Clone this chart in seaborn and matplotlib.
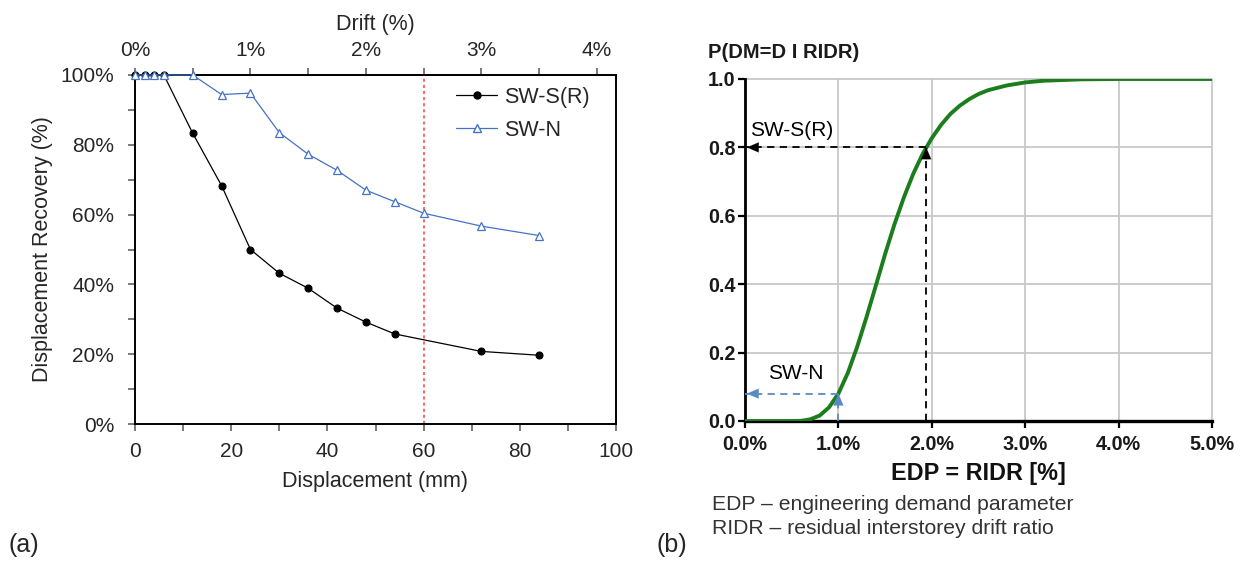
import matplotlib
matplotlib.use("Agg")
import matplotlib.pyplot as plt
from matplotlib.ticker import MultipleLocator, FixedLocator, FuncFormatter
from matplotlib.lines import Line2D
import seaborn as sns

# ---- panel (a): displacement recovery of the two walls ----
disp_swsr = [0, 2, 4, 6, 12, 18, 24, 30, 36, 42, 48, 54, 72, 84]
recov_swsr = [100, 100, 100, 100, 83.3, 68.3, 50.0, 43.2, 38.9, 33.2, 29.2, 25.8, 20.8, 19.7]
disp_swn = [0, 2, 4, 6, 12, 18, 24, 30, 36, 42, 48, 54, 60, 72, 84]
recov_swn = [100, 100, 100, 100, 100, 94.4, 94.8, 83.5, 77.3, 72.7, 67.0, 63.7, 60.4, 56.7, 54.0]
drift_limit_mm = 60
mm_per_drift_pct = 24
drift_ticks = [0, 1, 2, 3, 4]
drift_minor_ticks = [0.5, 1.5, 2.5, 3.5, 4.0]
series_names = ["SW-S(R)", "SW-N"]

# ---- panel (b): fragility curve P(DM=D | RIDR) ----
ridr_pct = [0.0, 0.5, 0.6, 0.7, 0.8, 0.9, 1.0, 1.1, 1.2, 1.3, 1.4, 1.5, 1.6, 1.7,
            1.8, 1.9, 2.0, 2.1, 2.2, 2.3, 2.4, 2.5, 2.6, 2.8, 3.0, 3.2, 3.4, 3.6,
            4.0, 4.5, 5.0]
prob_dm = [0.0, 0.0, 0.0005, 0.005, 0.016, 0.04, 0.08, 0.14, 0.216, 0.303, 0.395,
           0.488, 0.575, 0.653, 0.722, 0.78, 0.827, 0.866, 0.898, 0.922, 0.941,
           0.956, 0.967, 0.981, 0.99, 0.995, 0.997, 0.999, 1.0, 1.0, 1.0]
read_ridr = [1.94, 1.0]
read_prob = [0.8, 0.08]

sns.set_theme(style="white")
plt.rcParams["font.family"] = ["Liberation Sans", "DejaVu Sans"]
plt.rcParams["axes.unicode_minus"] = False

fig = plt.figure(figsize=(12.42, 5.61), dpi=100)
W, H = 1242, 561

def px_axes(l, t, r, b):
    return fig.add_axes([l / W, 1 - b / H, (r - l) / W, (b - t) / H])

# ======================= panel (a) =======================
ax = px_axes(135, 75, 616, 424)
blue = "#4472C4"
fs = 15

sns.lineplot(x=disp_swsr, y=recov_swsr, ax=ax, color="black", lw=0.9,
             marker="o", markersize=5, markeredgecolor="black",
             markerfacecolor="black", markeredgewidth=0.8, sort=False,
             clip_on=False, zorder=4)
sns.lineplot(x=disp_swn, y=recov_swn, ax=ax, color=blue, lw=0.9,
             marker="^", markersize=6, markeredgecolor=blue,
             markerfacecolor="white", markeredgewidth=0.9, sort=False,
             clip_on=False, zorder=5)
ax.axvline(drift_limit_mm, color="#ff3b3b", lw=1.1, ls=(0, (2, 2)), zorder=1)

ax.set_xlim(0, 100)
ax.set_ylim(0, 100)
ax.xaxis.set_major_locator(MultipleLocator(20))
ax.xaxis.set_minor_locator(MultipleLocator(10))
ax.yaxis.set_major_locator(MultipleLocator(20))
ax.yaxis.set_minor_locator(MultipleLocator(10))
ax.yaxis.set_major_formatter(FuncFormatter(lambda v, p: f"{v:.0f}%"))
ax.tick_params(which="both", direction="out", length=5, width=1.1,
               color="#555555", labelsize=fs, bottom=True, left=True)
ax.tick_params(axis="x", which="major", pad=8)
ax.tick_params(axis="y", which="major", pad=10)
for s in ax.spines.values():
    s.set_color("black")
    s.set_linewidth(1.4)
ax.set_xlabel("Displacement (mm)", fontsize=fs + 0.5, labelpad=7)
ax.set_ylabel("Displacement Recovery (%)", fontsize=fs + 0.5, labelpad=5)

top = ax.secondary_xaxis("top", functions=(lambda mm: mm / mm_per_drift_pct,
                                           lambda d: d * mm_per_drift_pct))
top.xaxis.set_major_locator(FixedLocator(drift_ticks))
top.xaxis.set_minor_locator(FixedLocator(drift_minor_ticks))
top.xaxis.set_major_formatter(FuncFormatter(lambda v, p: f"{v:.0f}%"))
top.tick_params(which="both", direction="out", length=5, width=1.1,
                color="#555555", labelsize=fs)
top.tick_params(which="major", pad=6)
top.set_xlabel("Drift (%)", fontsize=fs + 0.5, labelpad=8)

handles = [
    Line2D([], [], color="black", lw=0.9, marker="o", markersize=5,
           markerfacecolor="black", markeredgecolor="black"),
    Line2D([], [], color=blue, lw=0.9, marker="^", markersize=6,
           markerfacecolor="white", markeredgecolor=blue),
]
ax.legend(handles, series_names, loc="upper left", bbox_to_anchor=(0.668, 0.966),
          frameon=False, fontsize=fs + 0.5, borderpad=0, borderaxespad=0,
          handlelength=1.9, handletextpad=0.3, labelspacing=0.55)

# ======================= panel (b) =======================
bx = px_axes(745, 79, 1212, 421)
green = "#1c7d1c"
bfs = 14.2

sns.lineplot(x=ridr_pct, y=prob_dm, ax=bx, color=green, lw=2.8, sort=False,
             zorder=3)
bx.set_xlim(0, 5)
bx.set_ylim(0, 1)
bx.xaxis.set_major_locator(MultipleLocator(1))
bx.yaxis.set_major_locator(MultipleLocator(0.2))
bx.xaxis.set_major_formatter(FuncFormatter(lambda v, p: f"{v:.1f}%"))
bx.yaxis.set_major_formatter(FuncFormatter(lambda v, p: f"{v:.1f}"))
bx.grid(True, color="#c8c8c8", lw=1.3)
for gl in bx.get_xgridlines() + bx.get_ygridlines():
    gl.set_clip_on(False)
bx.spines["top"].set_visible(False)
bx.spines["right"].set_visible(False)
bx.spines["left"].set_color("black")
bx.spines["left"].set_linewidth(2.0)
bx.spines["bottom"].set_color("black")
bx.spines["bottom"].set_linewidth(2.4)
bx.tick_params(which="both", direction="out", length=5, width=1.6,
               color="black", labelsize=bfs, bottom=True, left=True)
bx.tick_params(axis="x", pad=5)
bx.tick_params(axis="y", pad=2)
for lab in bx.get_xticklabels() + bx.get_yticklabels():
    lab.set_fontweight("bold")
    lab.set_color("#1a1a1a")
bx.set_xlabel("EDP = RIDR [%]", fontsize=16.8, fontweight="bold", color="#111111",
              labelpad=6)

dash_colors = ["black", "#5a8ac6"]
for xr, pr, c in zip(read_ridr, read_prob, dash_colors):
    bx.plot([xr, xr], [0, pr], color=c, lw=1.3, ls=(0, (4, 3)), zorder=4)
    bx.plot([xr, 0], [pr, pr], color=c, lw=1.3, ls=(0, (4, 3)), zorder=4)
    bx.annotate("", xy=(xr, pr), xytext=(xr, pr - 0.04),
                arrowprops=dict(arrowstyle="-|>,head_length=0.7,head_width=0.3",
                                color=c, lw=0.1, shrinkA=0, shrinkB=0), zorder=5)
    bx.annotate("", xy=(0.02, pr), xytext=(0.2, pr),
                arrowprops=dict(arrowstyle="-|>,head_length=0.7,head_width=0.3",
                                color=c, lw=0.1, shrinkA=0, shrinkB=0), zorder=5)

bx.text(0.05, 0.848, series_names[0], fontsize=15, va="center", ha="left",
        color="black")
bx.text(0.54, 0.14, series_names[1], fontsize=15, va="center", ha="center",
        color="black")

fig.text(708 / W, 1 - 52 / H, "P(DM=D I RIDR)", fontsize=14.5, fontweight="bold",
         ha="left", va="center", color="#1a1a1a")
fig.text(712 / W, 1 - 505 / H, "EDP \u2013 engineering demand parameter",
         fontsize=15.2, ha="left", va="center", color="#333333")
fig.text(712 / W, 1 - 529 / H, "RIDR \u2013 residual interstorey drift ratio",
         fontsize=15.2, ha="left", va="center", color="#333333")

fig.text(8 / W, 1 - 545 / H, "(a)", fontsize=18, ha="left", va="center")
fig.text(657 / W, 1 - 545 / H, "(b)", fontsize=18, ha="left", va="center")

fig.savefig("out.png", dpi=100)
